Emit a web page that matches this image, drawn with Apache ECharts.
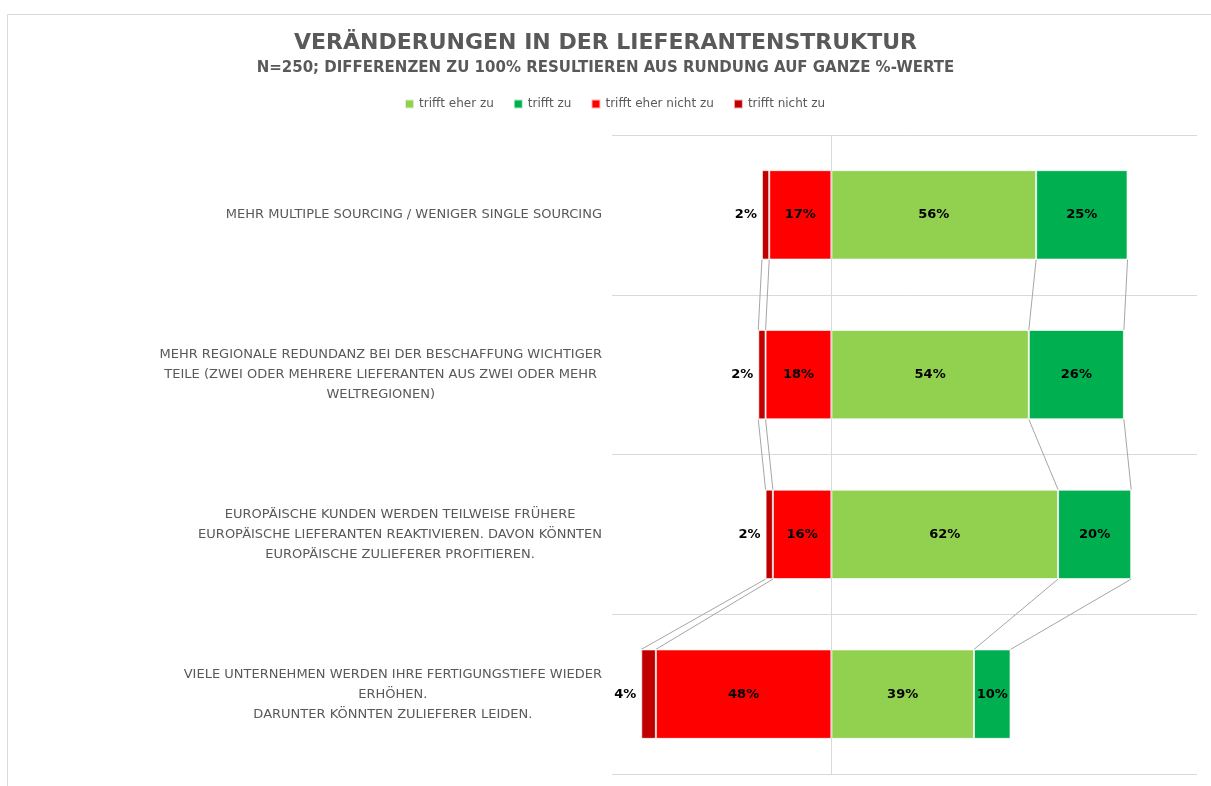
<!DOCTYPE html>
<html>
<head>
<meta charset="utf-8">
<script src="https://cdn.jsdelivr.net/npm/echarts@6/dist/echarts.min.js"></script>
<style>
  html, body { margin: 0; padding: 0; background: #fff; }
  #main { width: 1211px; height: 786px; }
</style>
</head>
<body>
<div id="main"></div>
<script>
var categories = [
  'MEHR MULTIPLE SOURCING / WENIGER SINGLE SOURCING',
  'MEHR REGIONALE REDUNDANZ BEI DER BESCHAFFUNG WICHTIGER\nTEILE (ZWEI ODER MEHRERE LIEFERANTEN AUS ZWEI ODER MEHR\nWELTREGIONEN)',
  'EUROPÄISCHE KUNDEN WERDEN TEILWEISE FRÜHERE\nEUROPÄISCHE LIEFERANTEN REAKTIVIEREN. DAVON KÖNNTEN\nEUROPÄISCHE ZULIEFERER PROFITIEREN.',
  'VIELE UNTERNEHMEN WERDEN IHRE FERTIGUNGSTIEFE WIEDER\nERHÖHEN.\nDARUNTER KÖNNTEN ZULIEFERER LEIDEN.'
];
var eherZu = [56, 54, 62, 39];        // trifft eher zu
var zu = [25, 26, 20, 10];            // trifft zu
var eherNichtZu = [17, 18, 16, 48];   // trifft eher nicht zu
var nichtZu = [2, 2, 2, 4];           // trifft nicht zu
var legendNames = ['trifft eher zu', 'trifft zu', 'trifft eher nicht zu', 'trifft nicht zu'];

var font = 'DejaVu Sans';
var barW = 0.56;

function neg(arr) {
  return arr.map(function (v) { return -v; });
}

var labelStyle = {
  show: true,
  position: 'inside',
  color: '#000',
  fontFamily: font,
  fontWeight: 'bold',
  fontSize: 13,
  formatter: function (p) {
    return Math.abs(p.value) + '%';
  }
};

// Verbindungslinien zwischen den Balken (wie Excel "Reihenlinien")
function renderSeriesLines(params, api) {
  var i = params.dataIndex;
  var half = api.size([0, 1])[1] * barW / 2;
  var ends = function (k) {
    return [-eherNichtZu[k], -(eherNichtZu[k] + nichtZu[k]), eherZu[k], eherZu[k] + zu[k]];
  };
  var a = ends(i), b = ends(i + 1);
  var children = [];
  for (var k = 0; k < a.length; k++) {
    var p1 = api.coord([a[k], i]);
    var p2 = api.coord([b[k], i + 1]);
    children.push({
      type: 'line',
      shape: { x1: p1[0], y1: p1[1] + half, x2: p2[0], y2: p2[1] - half },
      style: { stroke: '#a6a6a6', lineWidth: 1 }
    });
  }
  return { type: 'group', children: children };
}

var chart = echarts.init(document.getElementById('main'));
chart.setOption({
  animation: false,
  backgroundColor: '#fff',
  graphic: [{
    type: 'rect',
    left: 5,
    top: 12,
    silent: true,
    shape: { width: 1300, height: 900 },
    style: { fill: 'none', stroke: '#d9d9d9', lineWidth: 1 }
  }],
  title: {
    left: 'center',
    top: 27,
    text: 'VERÄNDERUNGEN IN DER LIEFERANTENSTRUKTUR',
    subtext: 'N=250; DIFFERENZEN ZU 100% RESULTIEREN AUS RUNDUNG AUF GANZE %-WERTE',
    itemGap: 7,
    textStyle: { fontFamily: font, fontSize: 22, fontWeight: 'bold', color: '#595959' },
    subtextStyle: { fontFamily: font, fontSize: 15, fontWeight: 'bold', color: '#595959' }
  },
  legend: {
    top: 93,
    left: 399,
    data: legendNames,
    itemWidth: 9,
    itemHeight: 9,
    itemGap: 19,
    icon: 'rect',
    textStyle: { fontFamily: font, fontSize: 12, color: '#595959' }
  },
  grid: {
    left: 612,
    right: 14,
    top: 135,
    bottom: 12
  },
  xAxis: {
    type: 'value',
    min: -60,
    max: 100,
    show: false
  },
  yAxis: {
    type: 'category',
    inverse: true,
    data: categories,
    axisLine: { show: false },
    axisTick: { show: false },
    splitLine: { show: true, lineStyle: { color: '#d9d9d9', width: 1 } },
    axisLabel: {
      interval: 0,
      margin: 10,
      formatter: function (val) {
        return val.split('\n').map(function (l) { return '{c|' + l + '}'; }).join('\n');
      },
      rich: {
        c: {
          align: 'center',
          fontFamily: font,
          fontSize: 13,
          lineHeight: 20,
          color: '#595959'
        }
      }
    }
  },
  color: ['#92d050', '#00b050', '#ff0000', '#c00000'],
  series: [{
    name: 'trifft eher nicht zu',
    type: 'bar',
    stack: 'total',
    barWidth: '56%',
    data: neg(eherNichtZu),
    itemStyle: { color: '#ff0000', borderColor: 'rgba(255,255,255,0.7)', borderWidth: 1 },
    label: labelStyle
  }, {
    name: 'trifft nicht zu',
    type: 'bar',
    stack: 'total',
    data: neg(nichtZu),
    itemStyle: { color: '#c00000', borderColor: 'rgba(255,255,255,0.7)', borderWidth: 1 },
    label: Object.assign({}, labelStyle, { position: 'left', distance: 5 })
  }, {
    name: 'trifft eher zu',
    type: 'bar',
    stack: 'total',
    data: eherZu,
    itemStyle: { color: '#92d050', borderColor: 'rgba(255,255,255,0.7)', borderWidth: 1 },
    label: labelStyle,
    markLine: {
      silent: true,
      symbol: 'none',
      label: { show: false },
      lineStyle: { color: '#d9d9d9', type: 'solid', width: 1 },
      data: [{ xAxis: 0 }]
    }
  }, {
    name: 'trifft zu',
    type: 'bar',
    stack: 'total',
    data: zu,
    itemStyle: { color: '#00b050', borderColor: 'rgba(255,255,255,0.7)', borderWidth: 1 },
    label: labelStyle
  }, {
    name: 'Reihenlinien',
    type: 'custom',
    renderItem: renderSeriesLines,
    silent: true,
    encode: { x: 0, y: 1 },
    data: categories.slice(0, -1).map(function (c, i) { return [0, i]; })
  }]
});
</script>
</body>
</html>
